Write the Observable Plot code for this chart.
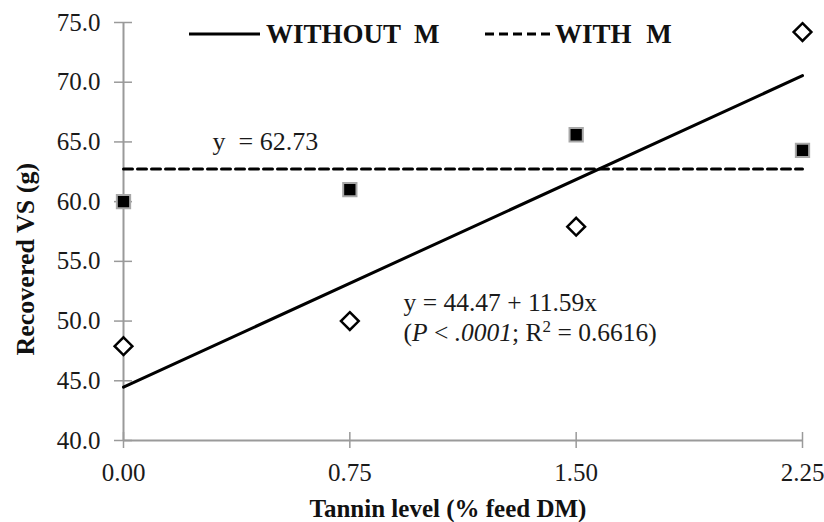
<!DOCTYPE html>
<html>
<head>
<meta charset="utf-8">
<script src="https://cdn.jsdelivr.net/npm/d3@7"></script>
<script src="https://cdn.jsdelivr.net/npm/@observablehq/plot@0.6"></script>
<style>
  html, body { margin: 0; padding: 0; background: white; }
  #wrap { position: relative; width: 824px; height: 522px; font-family: "Liberation Serif", "Times New Roman", serif; }
  .leg { position: absolute; top: 19px; height: 30px; display: flex; align-items: center; font-weight: bold; font-size: 27px; color: #111; white-space: pre; }
  .leg svg { display: block; }
</style>
</head>
<body>
<div id="wrap"></div>
<script>
// ---- data ----
const levels = [0, 0.75, 1.5, 2.25];            // tannin level (% feed DM)
const withoutM = [47.9, 50.0, 57.9, 74.2];      // diamonds
const withM = [60.0, 61.0, 65.6, 64.3];         // squares
const withoutFit = [44.47, 11.59];              // intercept, slope
const withMean = [62.73];
const xTicks = [0, 0.75, 1.5, 2.25];
const yTicks = [40, 45, 50, 55, 60, 65, 70, 75];
const seriesNames = ["WITHOUT  M", "WITH M"];
const annotations = ["y  = 62.73", "y = 44.47 + 11.59x", "(P < .0001; R² = 0.6616)"];
const axisTitles = ["Tannin level (% feed DM)", "Recovered VS (g)"];

const ptsWithout = levels.map((x, i) => ({x, y: withoutM[i]}));
const ptsWith = levels.map((x, i) => ({x, y: withM[i]}));
const xr = d3.extent(levels);
const fitLine = xr.map(x => ({x, y: withoutFit[0] + withoutFit[1] * x}));
const meanLine = xr.map(x => ({x, y: withMean[0]}));

const W = 824, H = 522, mL = 123, mR = 22, mT = 22, mB = 82;
const fw = W - mL - mR, fh = H - mT - mB;
const axisGray = "#9a9a9a";

const chart = Plot.plot({
  width: W, height: H,
  marginLeft: mL, marginRight: mR, marginTop: mT, marginBottom: mB,
  x: {domain: [0, 2.25]},
  y: {domain: [40, 75]},
  style: {fontFamily: "'Liberation Serif', 'Times New Roman', serif", fontSize: "25px", color: "#1a1a1a", background: "white", overflow: "visible"},
  marks: [
    Plot.ruleX([0], {stroke: axisGray, strokeWidth: 2}),
    Plot.ruleY([40], {stroke: axisGray, strokeWidth: 2}),
    Plot.gridY({ticks: yTicks, stroke: axisGray, strokeOpacity: 1, strokeWidth: 1.5, insetLeft: -9, insetRight: fw - 9}),
    Plot.gridX({ticks: xTicks, stroke: axisGray, strokeOpacity: 1, strokeWidth: 1.5, insetTop: fh - 8, insetBottom: -8}),
    Plot.axisY({ticks: yTicks, tickSize: 0, tickPadding: 23, tickFormat: d => d.toFixed(1), fontSize: 25, label: null}),
    Plot.axisX({ticks: xTicks, tickSize: 0, tickPadding: 23, tickFormat: d => d.toFixed(2), fontSize: 25, label: null}),
    Plot.line(meanLine, {x: "x", y: "y", stroke: "#000", strokeWidth: 3, strokeDasharray: "9,5"}),
    Plot.line(fitLine, {x: "x", y: "y", stroke: "#000", strokeWidth: 3}),
    Plot.dot(ptsWith, {x: "x", y: "y", symbol: "square", r: 7.5, fill: "#000", stroke: "#a8a8a8", strokeWidth: 2}),
    Plot.dot(ptsWithout, {x: "x", y: "y", symbol: "diamond2", r: 8, fill: "white", stroke: "#000", strokeWidth: 2.5}),
    Plot.text([annotations[0]], {text: d => d, frameAnchor: "top-left", textAnchor: "start", lineAnchor: "middle", dx: 89, dy: 119, fontSize: 26, fill: "#1a1a1a"}),
    Plot.text([annotations[1]], {text: d => d, frameAnchor: "top-left", textAnchor: "start", lineAnchor: "middle", dx: 280, dy: 280, fontSize: 25.5, fill: "#1a1a1a"}),
    Plot.text([annotations[2]], {text: d => d, frameAnchor: "top-left", textAnchor: "start", lineAnchor: "middle", dx: 280, dy: 310, fontSize: 25.5, fill: "#1a1a1a"}),
    Plot.text([axisTitles[0]], {text: d => d, frameAnchor: "bottom", lineAnchor: "middle", dx: -15, dy: 68, fontSize: 25, fontWeight: "bold", fill: "#111"}),
    Plot.text([axisTitles[1]], {text: d => d, frameAnchor: "left", lineAnchor: "middle", rotate: -90, dx: -98, dy: 124, fontSize: 26, fontWeight: "bold", fill: "#111"})
  ]
});

// rich formatting of the statistics line (italic P and p-value, superscript 2)
d3.select(chart).selectAll("text").each(function() {
  if (this.textContent === annotations[2]) {
    const t = d3.select(this);
    t.text(null);
    t.append("tspan").text("(");
    t.append("tspan").attr("font-style", "italic").text("P");
    t.append("tspan").text(" < ");
    t.append("tspan").attr("font-style", "italic").text(".0001");
    t.append("tspan").text("; R");
    t.append("tspan").attr("font-size", "17px").attr("dy", "-9").text("2");
    t.append("tspan").attr("dy", "9").text(" = 0.6616)");
  }
});

const wrap = document.getElementById("wrap");
wrap.appendChild(chart);

function legendItem(left, name, dash, swW, gap, wordSpacing) {
  const div = document.createElement("div");
  div.className = "leg";
  div.style.left = left + "px";
  const svg = d3.create("svg").attr("width", swW).attr("height", 6);
  svg.append("line").attr("x1", 0).attr("x2", swW).attr("y1", 3).attr("y2", 3)
    .attr("stroke", "#000").attr("stroke-width", 3).attr("stroke-dasharray", dash);
  div.appendChild(svg.node());
  const span = document.createElement("span");
  span.style.marginLeft = gap + "px";
  span.style.wordSpacing = wordSpacing + "px";
  span.textContent = name;
  div.appendChild(span);
  wrap.appendChild(div);
}
legendItem(189, seriesNames[0], null, 71, 6, 0);
legendItem(485, seriesNames[1], "9,5", 67, 3, 8);
</script>
</body>
</html>
